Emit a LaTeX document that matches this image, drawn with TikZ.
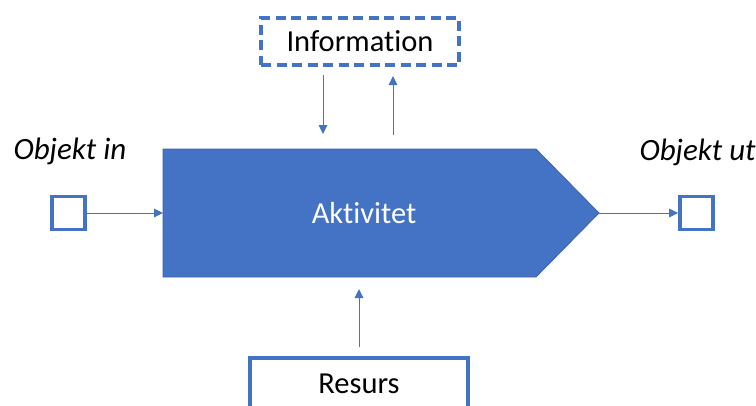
\documentclass[tikz,border=0pt]{standalone}
\usepackage{fontspec}
\setmainfont{Carlito}[Ligatures={NoCommon}]
\usetikzlibrary{arrows.meta}
\definecolor{ablue}{HTML}{4472C4}
\definecolor{adark}{HTML}{3A63AD}
\begin{document}
\begin{tikzpicture}[x=1pt,y=-1pt,
  box/.style={draw=ablue,line width=3.6pt,fill=white,inner sep=0pt},
  flow/.style={draw=ablue,line width=1pt,-{Triangle[length=9pt,width=8.5pt]}},
  lbl/.style={font=\fontsize{30.5}{36}\selectfont}]
\useasboundingbox (0,0) rectangle (756,405);
\clip (0,0) rectangle (756,405);

% activity arrow shape
\filldraw[fill=ablue,draw=adark,line width=0.8pt]
  (163,149) -- (536,149) -- (599,213) -- (536,277) -- (163,277) -- cycle;
\node[lbl,text=white] (act) at (364,213) {Aktivitet};
\coordinate (actin) at (163,213);
\coordinate (acttip) at (599,213);

% information (dashed) and resource boxes
\node[box,dash pattern=on 10pt off 5.5pt,minimum width=198pt,minimum height=47pt,lbl]
  (info) at (360,41.5) {Information};
\node[box,minimum width=218pt,minimum height=52pt,lbl] (res) at (359,384) {Resurs};

% object squares and their labels
\node[box,minimum size=33pt] (oin) at (68.5,213) {};
\node[box,minimum size=33pt] (out) at (696.5,213) {};
\node[font=\fontsize{31}{36}\selectfont\itshape,anchor=base west] (oinlbl) at (10,159) {Objekt in};
\node[font=\fontsize{31}{36}\selectfont\itshape,anchor=base west] (outlbl) at (636,160) {Objekt ut};

% connectors
\coordinate (infodown1) at (323,75);
\coordinate (infodown2) at (323,134);
\coordinate (infoup1) at (393,135);
\coordinate (infoup2) at (393,76);
\coordinate (resup1) at (359,347);
\coordinate (resup2) at (359,289);

\draw[flow] (oin.east) -- (actin);
\draw[flow] (acttip) -- (out.west);
\draw[flow] (infodown1) -- (infodown2);
\draw[flow] (infoup1) -- (infoup2);
\draw[flow] (resup1) -- (resup2);
\end{tikzpicture}
\end{document}
